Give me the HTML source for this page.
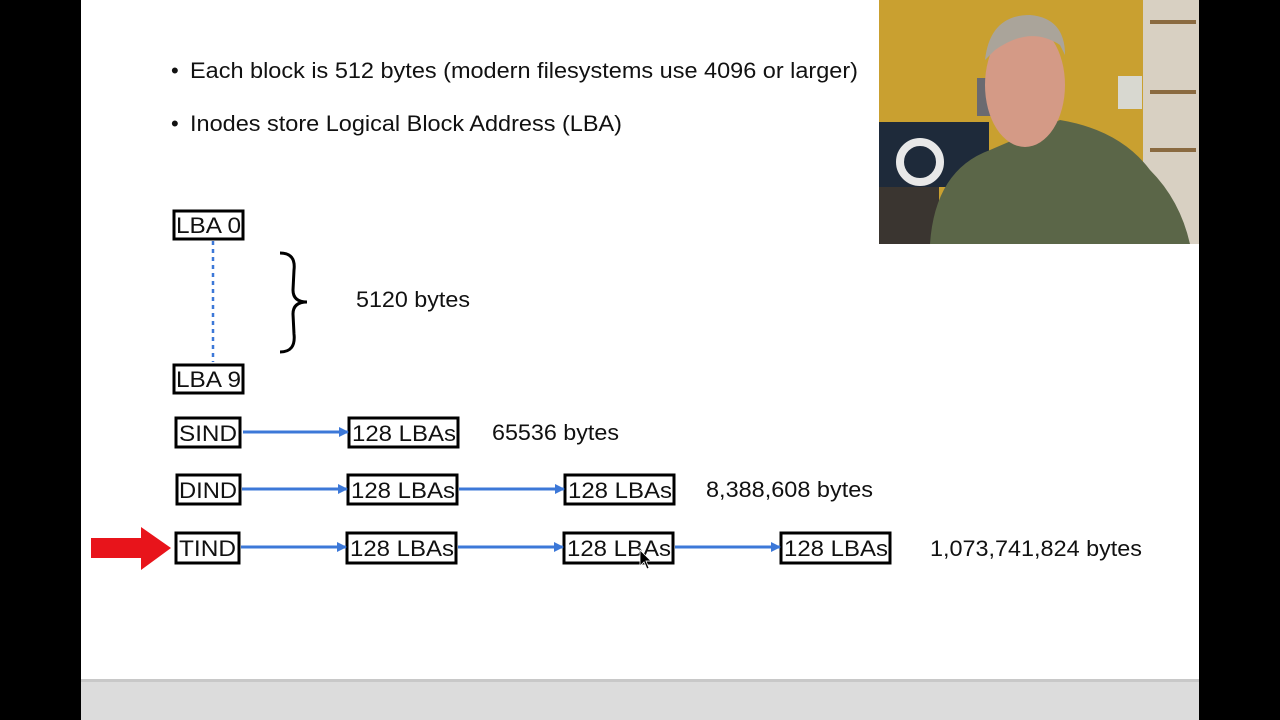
<!DOCTYPE html>
<html><head><style>
html,body{margin:0;padding:0;background:#000;}
svg{display:block;}
text{font-family:"Liberation Sans",Arial,sans-serif;fill:#111;}
</style></head><body>
<svg width="1280" height="720" viewBox="0 0 1280 720" xmlns="http://www.w3.org/2000/svg">
<defs>
<marker id="ah" markerWidth="10" markerHeight="10" refX="9" refY="5" orient="auto" markerUnits="userSpaceOnUse">
<path d="M0,0 L10,5 L0,10 Z" fill="#3c78d8"/></marker>
</defs>
<rect x="0" y="0" width="1280" height="720" fill="#000"/>
<rect x="81" y="0" width="1118" height="681" fill="#fff"/>
<rect x="81" y="681" width="1118" height="39" fill="#dcdcdc"/>
<rect x="81" y="679" width="1118" height="3" fill="#c8c8c8"/>

<g font-size="22">
<text x="171" y="78">•</text>
<text x="190" y="78" textLength="668" lengthAdjust="spacingAndGlyphs">Each block is 512 bytes (modern filesystems use 4096 or larger)</text>
<text x="171" y="131">•</text>
<text x="190" y="131" textLength="432" lengthAdjust="spacingAndGlyphs">Inodes store Logical Block Address (LBA)</text>
</g>

<g stroke="#000" stroke-width="3" fill="#fff">
<rect x="174" y="211" width="69" height="28"/>
<rect x="174" y="365" width="69" height="28"/>
<rect x="176" y="418" width="64" height="29"/>
<rect x="349" y="418" width="109" height="29"/>
<rect x="177" y="475" width="63" height="29"/>
<rect x="348" y="475" width="109" height="29"/>
<rect x="565" y="475" width="109" height="29"/>
<rect x="176" y="533" width="63" height="30"/>
<rect x="347" y="533" width="109" height="30"/>
<rect x="564" y="533" width="109" height="30"/>
<rect x="781" y="533" width="109" height="30"/>
</g>
<g font-size="22" lengthAdjust="spacingAndGlyphs">
<text x="176" y="233" textLength="65" lengthAdjust="spacingAndGlyphs">LBA 0</text>
<text x="176" y="387" textLength="65" lengthAdjust="spacingAndGlyphs">LBA 9</text>
<text x="179" y="441" textLength="58" lengthAdjust="spacingAndGlyphs">SIND</text>
<text x="352" y="441" textLength="104" lengthAdjust="spacingAndGlyphs">128 LBAs</text>
<text x="179" y="498" textLength="58" lengthAdjust="spacingAndGlyphs">DIND</text>
<text x="351" y="498" textLength="104" lengthAdjust="spacingAndGlyphs">128 LBAs</text>
<text x="568" y="498" textLength="104" lengthAdjust="spacingAndGlyphs">128 LBAs</text>
<text x="179" y="556" textLength="57" lengthAdjust="spacingAndGlyphs">TIND</text>
<text x="350" y="556" textLength="104" lengthAdjust="spacingAndGlyphs">128 LBAs</text>
<text x="567" y="556" textLength="104" lengthAdjust="spacingAndGlyphs">128 LBAs</text>
<text x="784" y="556" textLength="104" lengthAdjust="spacingAndGlyphs">128 LBAs</text>
</g>
<line x1="213" y1="241" x2="213" y2="362" stroke="#3c78d8" stroke-width="2.5" stroke-dasharray="4,4"/>
<path d="M280,253 Q296,253 294,270 L293,290 Q293,302 307,302 Q293,302 293,314 L294,334 Q296,352 280,352" fill="none" stroke="#000" stroke-width="3"/>

<g stroke="#3c78d8" stroke-width="3" marker-end="url(#ah)">
<line x1="243" y1="432" x2="348" y2="432"/>
<line x1="242" y1="489" x2="347" y2="489"/>
<line x1="459" y1="489" x2="564" y2="489"/>
<line x1="241" y1="547" x2="346" y2="547"/>
<line x1="458" y1="547" x2="563" y2="547"/>
<line x1="675" y1="547" x2="780" y2="547"/>
</g>
<g font-size="22">
<text x="356" y="307" textLength="114" lengthAdjust="spacingAndGlyphs">5120 bytes</text>
<text x="492" y="440" textLength="127" lengthAdjust="spacingAndGlyphs">65536 bytes</text>
<text x="706" y="497" textLength="167" lengthAdjust="spacingAndGlyphs">8,388,608 bytes</text>
<text x="930" y="556" textLength="212" lengthAdjust="spacingAndGlyphs">1,073,741,824 bytes</text>
</g>
<path d="M91,538 L141,538 L141,527 L171,548 L141,570 L141,558 L91,558 Z" fill="#e8141b"/>
<path d="M640,550 L640,566 L644,562 L647,569 L649,568 L646,561 L651,561 Z" fill="#000" stroke="#fff" stroke-width="0.8"/>

<!-- webcam -->
<g>
<rect x="879" y="0" width="320" height="244" fill="#c9a030"/>
<rect x="1143" y="0" width="56" height="244" fill="#d8d0c2"/>
<rect x="1150" y="20" width="46" height="4" fill="#8a6a40"/>
<rect x="1150" y="90" width="46" height="4" fill="#8a6a40"/>
<rect x="1150" y="148" width="46" height="4" fill="#8a6a40"/>
<rect x="879" y="122" width="110" height="65" fill="#1e2a3a"/>
<circle cx="920" cy="162" r="20" fill="none" stroke="#e8e8e8" stroke-width="8"/>
<rect x="879" y="187" width="60" height="57" fill="#3a3530"/>
<rect x="1118" y="76" width="24" height="33" fill="#d8d8d0"/>
<rect x="977" y="78" width="14" height="38" fill="#6a6a70"/>
<path d="M930,244 Q935,170 990,150 L1060,120 Q1120,130 1150,170 Q1180,200 1190,244 Z" fill="#5b6648"/>
<ellipse cx="1025" cy="85" rx="40" ry="62" fill="#d49a86"/>
<path d="M985,60 Q990,15 1030,15 Q1065,18 1065,55 L1060,45 Q1030,25 995,50 Z" fill="#aaa49a"/>
</g>
</svg>
</body></html>
